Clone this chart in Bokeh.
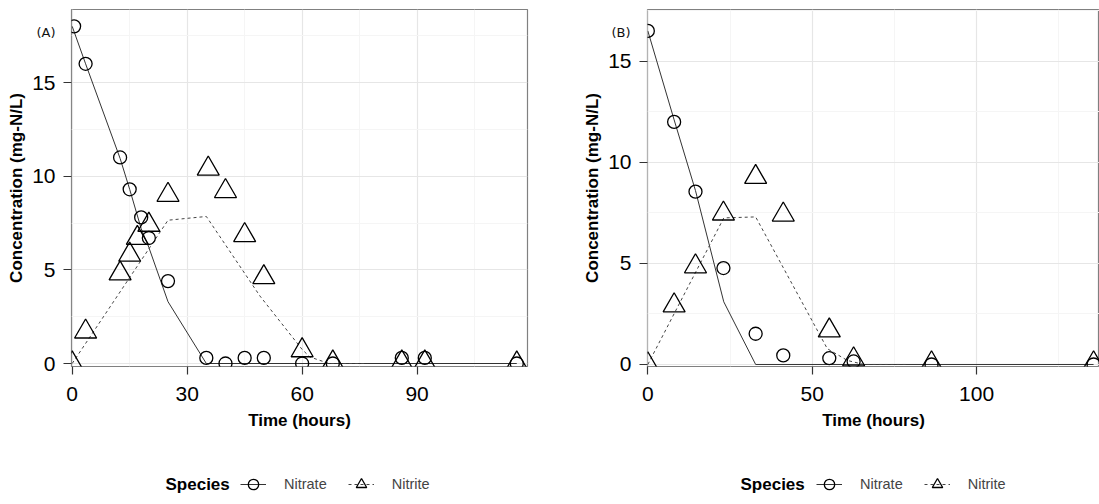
from bokeh.plotting import figure
from bokeh.models import (Range1d, FixedTicker, Legend, LegendItem, Label, Title)
from bokeh.layouts import row, column
from bokeh.embed import file_html
from bokeh.resources import INLINE

# ---------------- data: panel A ----------------
a_time_nitrate = [0.5, 3.5, 12.5, 15, 18, 20, 25, 35, 40, 45, 50, 60, 68, 86, 92, 116]
a_nitrate = [18.0, 16.0, 11.0, 9.3, 7.8, 6.7, 4.4, 0.3, 0.0, 0.3, 0.3, 0.0, 0.0, 0.3, 0.3, 0.0]
a_time_nitrite = [0, 3.5, 12.5, 15, 17, 20, 25, 35.5, 40, 45, 50, 60, 68, 86, 92, 116]
a_nitrite = [0.0, 1.7, 4.8, 5.8, 6.7, 7.4, 9.0, 10.4, 9.2, 6.85, 4.6, 0.7, 0.05, 0.05, 0.05, 0.0]
a_model_nitrate_t = [0, 3.5, 12.5, 15, 18, 20, 25, 35, 116]
a_model_nitrate = [18.0, 16.0, 10.95, 9.3, 7.2, 6.2, 3.3, 0.0, 0.0]
a_model_nitrite_t = [0, 25, 35, 49, 60, 62, 67, 77]
a_model_nitrite = [0.0, 7.65, 7.85, 3.6, 0.75, 0.35, 0.0, 0.0]

# ---------------- data: panel B ----------------
b_time = [0, 8, 14.5, 23, 32.8, 41.2, 55.2, 62.6, 86.3, 135.6]
b_nitrate = [16.5, 12.0, 8.55, 4.77, 1.52, 0.45, 0.31, 0.15, 0.0, 0.0]
b_nitrite = [0.0, 2.92, 4.85, 7.46, 9.27, 7.41, 1.68, 0.25, 0.05, 0.05]
b_model_nitrate_t = [0, 8, 14.5, 23.1, 32.8, 135.6]
b_model_nitrate = [16.5, 12.1, 8.6, 3.1, 0.0, 0.0]
b_model_nitrite_t = [0, 23.1, 32.8, 54.6, 60.7, 65.7, 79.3]
b_model_nitrite = [0.0, 7.25, 7.3, 0.78, 0.2, 0.0, 0.0]

y_ticks = [0, 5, 10, 15]
y_minor = [2.5, 7.5, 12.5, 17.5]
a_x_ticks = [0, 30, 60, 90]
a_x_minor = [15, 45, 75, 105]
b_x_ticks = [0, 50, 100]
b_x_minor = [25, 75, 125]
species = ["Nitrate", "Nitrite"]
legend_title = "Species"

FONT = "Liberation Sans"
LINE_STYLE = [dict(line_color="#333333", line_width=1),
              dict(line_color="#444444", line_width=1, line_dash="3 3")]
MARK_STYLE = [dict(marker="circle", size=13, fill_color=None, line_color="black", line_width=1.3),
              dict(marker="triangle", size=22, fill_color=None, line_color="black", line_width=1.3)]


def make_panel(width, border_left, border_right, x_range, y_range, xt, xm,
               t_no3, no3, t_no2, no2, mt_no3, m_no3, mt_no2, m_no2, tag, tag_offset):
    p = figure(width=width, height=450, output_backend="svg", toolbar_location=None,
               x_range=Range1d(*x_range), y_range=Range1d(*y_range),
               min_border_left=border_left, min_border_right=border_right,
               min_border_top=9, min_border_bottom=84)
    p.background_fill_color = "white"
    p.border_fill_color = "white"
    p.outline_line_color = "#808080"
    p.outline_line_width = 1.2

    p.xaxis.ticker = FixedTicker(ticks=xt, minor_ticks=xm)
    p.yaxis.ticker = FixedTicker(ticks=y_ticks, minor_ticks=y_minor)
    for ax in (p.xaxis[0], p.yaxis[0]):
        ax.axis_line_color = None
        ax.major_tick_line_color = "#333333"
        ax.major_tick_line_width = 1.2
        ax.major_tick_out = 8
        ax.major_tick_in = 0
        ax.minor_tick_line_color = None
        ax.major_label_text_font = FONT
        ax.major_label_text_font_size = "21px"
        ax.major_label_text_color = "black"
        ax.axis_label_text_font = FONT
        ax.axis_label_text_font_size = "17px"
        ax.axis_label_text_font_style = "bold"
        ax.axis_label_text_color = "black"
    p.xaxis.axis_label = "Time (hours)"
    p.yaxis.axis_label = "Concentration (mg-N/L)"
    p.xaxis.major_label_standoff = 12
    p.yaxis.major_label_standoff = 8
    p.xaxis.axis_label_standoff = 7
    p.yaxis.axis_label_standoff = 3

    for g in (p.xgrid[0], p.ygrid[0]):
        g.grid_line_color = "#e6e6e6"
        g.grid_line_width = 1.2
        g.minor_grid_line_color = "#f5f5f5"
        g.minor_grid_line_width = 1

    p.line(mt_no3, m_no3, **LINE_STYLE[0])
    p.line(mt_no2, m_no2, **LINE_STYLE[1])
    p.scatter(t_no3, no3, **MARK_STYLE[0])
    p.scatter(t_no2, no2, **MARK_STYLE[1])

    p.add_layout(Title(text=tag, align="left", offset=tag_offset, standoff=-60,
                       vertical_align="bottom", text_font="DejaVu Sans",
                       text_font_size="13px", text_font_style="normal",
                       text_color="#111111"), "above")
    return p


def make_legend(width, title_x, left, t_no3, no3, t_no2, no2):
    q = figure(width=width, height=54, output_backend="svg", toolbar_location=None,
               x_range=Range1d(-1000, -999), y_range=Range1d(-1000, -999),
               x_axis_type=None, y_axis_type=None,
               min_border_left=0, min_border_right=0, min_border_top=0, min_border_bottom=0)
    q.grid.visible = False
    q.outline_line_color = None
    q.background_fill_color = "white"
    q.border_fill_color = "white"
    data = [(t_no3, no3), (t_no2, no2)]
    items = []
    for i, name in enumerate(species):
        lr = q.line(data[i][0], data[i][1], **LINE_STYLE[i])
        sr = q.scatter(data[i][0], data[i][1], **MARK_STYLE[i])
        items.append(LegendItem(label=name, renderers=[lr, sr]))
    leg = Legend(items=items, orientation="horizontal", location=(left, 5),
                 border_line_color=None,
                 background_fill_alpha=0, padding=0, margin=0,
                 glyph_width=26, glyph_height=30, label_height=30,
                 label_standoff=18, spacing=21,
                 label_text_font=FONT, label_text_font_size="14.5px")
    q.add_layout(leg)
    q.add_layout(Label(x=title_x, y=20, x_units="screen", y_units="screen",
                       text=legend_title, text_baseline="middle", text_align="left",
                       text_font=FONT, text_font_size="17px", text_font_style="bold",
                       text_color="black"))
    return q


pA = make_panel(549, 71, 22, (-0.18, 118.8), (-0.16, 18.9), a_x_ticks, a_x_minor,
                a_time_nitrate, a_nitrate, a_time_nitrite, a_nitrite,
                a_model_nitrate_t, a_model_nitrate, a_model_nitrite_t, a_model_nitrite,
                "(A)", -35)
pB = make_panel(550, 98, 0, (-0.1, 137.4), (-0.1, 17.56), b_x_ticks, b_x_minor,
                b_time, b_nitrate, b_time, b_nitrite,
                b_model_nitrate_t, b_model_nitrate, b_model_nitrite_t, b_model_nitrite,
                "(B)", -36)

# legend frames align with the panel frames above them (A: 71 px, B: 98 px)
legA = make_legend(549, 94, 169, a_time_nitrate, a_nitrate, a_time_nitrite, a_nitrite)
legB = make_legend(550, 93, 169, b_time, b_nitrate, b_time, b_nitrite)

layout = row(column(pA, legA), column(pB, legB))
open("out.html", "w").write(file_html(layout, INLINE))
